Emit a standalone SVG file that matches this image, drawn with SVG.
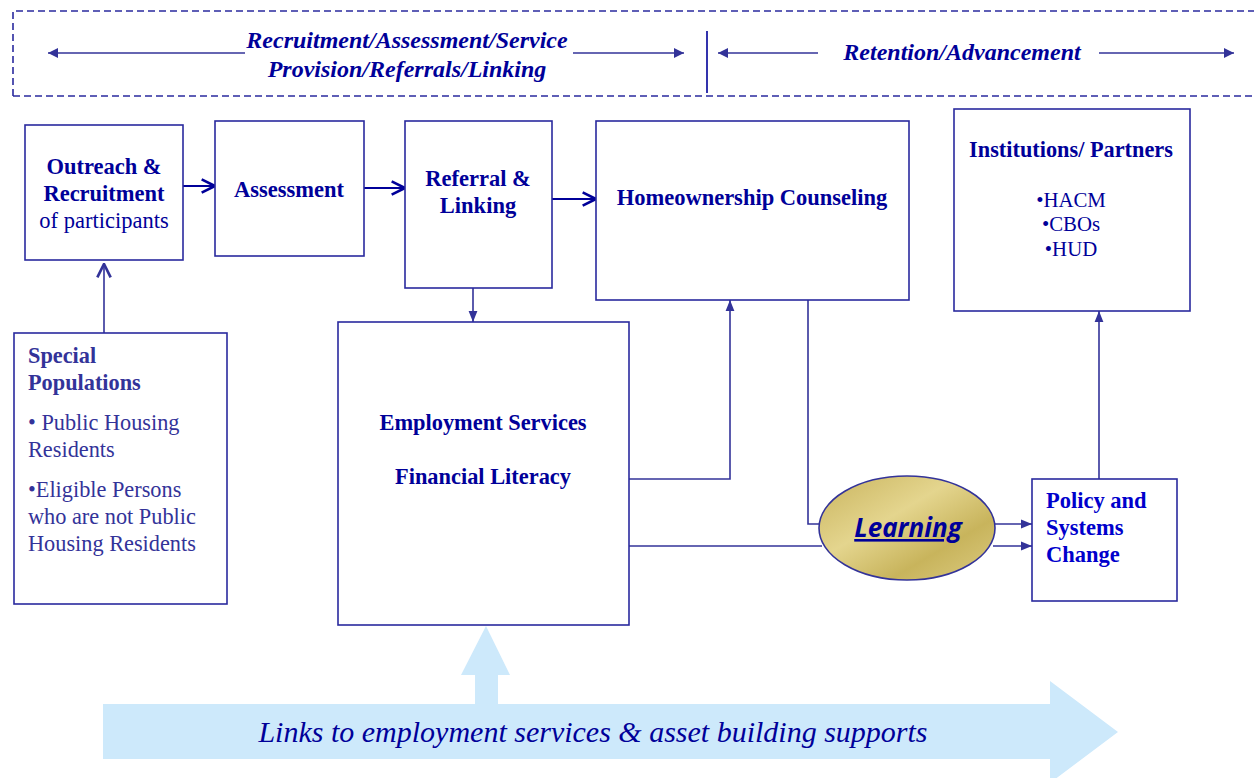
<svg xmlns="http://www.w3.org/2000/svg" width="1254" height="778" viewBox="0 0 1254 778">
<style>
.box{fill:#fff;stroke:#2a2a9e;stroke-width:1.6}
.t{font-family:"Liberation Serif",serif;fill:#000099}
.b{font-weight:bold}
.c{text-anchor:middle}
.sp{fill:#333399}
.pc{fill:#0000CC}
.con{fill:none;stroke:#333399;stroke-width:1.6}
.dk{stroke:#000099;stroke-width:2}
.hdr{font-family:"Liberation Serif",serif;font-weight:bold;font-style:italic;fill:#000099;font-size:24px}
</style>
<defs>
<marker id="fa" viewBox="0 0 10 10" refX="10" refY="5" markerWidth="11" markerHeight="10" markerUnits="userSpaceOnUse" orient="auto"><path d="M0,0 L10,5 L0,10 z" fill="#333399"/></marker>
<marker id="fa2" viewBox="0 0 10 10" refX="10" refY="5" markerWidth="11" markerHeight="11" markerUnits="userSpaceOnUse" orient="auto"><path d="M0,1 L10,5 L0,9 z" fill="#333399"/></marker>
<marker id="oa" viewBox="0 0 12 12" refX="11" refY="6" markerWidth="16" markerHeight="16" markerUnits="userSpaceOnUse" orient="auto"><path d="M1,1 L11,6 L1,11" fill="none" stroke="#000099" stroke-width="2"/></marker>
<marker id="oa2" viewBox="0 0 12 12" refX="11" refY="6" markerWidth="16" markerHeight="16" markerUnits="userSpaceOnUse" orient="auto"><path d="M1,1 L11,6 L1,11" fill="none" stroke="#333399" stroke-width="2"/></marker>
<linearGradient id="gold" x1="0" y1="0" x2="1" y2="1">
<stop offset="0" stop-color="#C9B45E"/>
<stop offset="0.4" stop-color="#E4D58E"/>
<stop offset="0.7" stop-color="#C8B45C"/>
<stop offset="1" stop-color="#DCCB80"/>
</linearGradient>
</defs>

<g id="header">
<path d="M13,96 L13,11 L1254,11 M13,96 L1254,96" fill="none" stroke="#2a2a9e" stroke-width="1.6" stroke-dasharray="7,4"/>
<line x1="707" y1="31" x2="707" y2="93" stroke="#000099" stroke-width="1.6"/>
<line x1="245" y1="53" x2="48" y2="53" class="con" marker-end="url(#fa)"/>
<line x1="573" y1="53" x2="684" y2="53" class="con" marker-end="url(#fa)"/>
<line x1="818" y1="53" x2="718" y2="53" class="con" marker-end="url(#fa)"/>
<line x1="1099" y1="53" x2="1234" y2="53" class="con" marker-end="url(#fa)"/>
<text class="hdr c" x="407" y="48">Recruitment/Assessment/Service</text>
<text class="hdr c" x="407" y="77">Provision/Referrals/Linking</text>
<text class="hdr c" x="962" y="60">Retention/Advancement</text>
</g>

<g id="big-arrow">
<path d="M103,704 L1050,704 L1050,681 L1118,732 L1050,783 L1050,759 L103,759 Z" fill="#CDE9FB"/>
<path d="M475,704 L475,675 L461,675 L486,626 L510,675 L498,675 L498,704 Z" fill="#CDE9FB"/>
<text class="t c" x="593" y="742" font-style="italic" font-size="30">Links to employment services &amp; asset building supports</text>
</g>

<g id="connectors">
<line x1="183" y1="186" x2="215" y2="186" class="con dk" marker-end="url(#oa)"/>
<line x1="361" y1="188" x2="405" y2="188" class="con dk" marker-end="url(#oa)"/>
<line x1="552" y1="199" x2="596" y2="199" class="con dk" marker-end="url(#oa)"/>
<line x1="104" y1="333" x2="104" y2="264" class="con" stroke-width="2.5" marker-end="url(#oa2)"/>
<line x1="473" y1="288" x2="473" y2="322" class="con" marker-end="url(#fa2)"/>
<polyline points="629,479 730,479 730,300" class="con" marker-end="url(#fa2)"/>
<polyline points="808,300 808,524 826,524" class="con"/>
<line x1="629" y1="546" x2="822" y2="546" class="con"/>
<line x1="990" y1="524" x2="1032" y2="524" class="con" marker-end="url(#fa2)"/>
<line x1="993" y1="546" x2="1032" y2="546" class="con" marker-end="url(#fa2)"/>
<line x1="1099" y1="479" x2="1099" y2="311" class="con" marker-end="url(#fa2)"/>
</g>

<g id="outreach">
<rect class="box" x="25" y="125" width="158" height="135"/>
<text class="t b c" x="104" y="174" font-size="22.5">Outreach &amp;</text>
<text class="t b c" x="104" y="201" font-size="22.5">Recruitment</text>
<text class="t c" x="104" y="228" font-size="22.5">of participants</text>
</g>

<g id="assessment">
<rect class="box" x="215" y="121" width="149" height="135"/>
<text class="t b c" x="289" y="197" font-size="22.5">Assessment</text>
</g>

<g id="referral">
<rect class="box" x="405" y="121" width="147" height="167"/>
<text class="t b c" x="478" y="186" font-size="22.5">Referral &amp;</text>
<text class="t b c" x="478" y="213" font-size="22.5">Linking</text>
</g>

<g id="homeownership">
<rect class="box" x="596" y="121" width="313" height="179"/>
<text class="t b c" x="752" y="205" font-size="22.5">Homeownership Counseling</text>
</g>

<g id="institutions">
<rect class="box" x="954" y="109" width="236" height="202"/>
<text class="t b c" x="1071" y="157" font-size="22.3">Institutions/ Partners</text>
<text class="t c" x="1071" y="207" font-size="20.8">•HACM</text>
<text class="t c" x="1071" y="231" font-size="20.8">•CBOs</text>
<text class="t c" x="1071" y="256" font-size="20.8">•HUD</text>
</g>

<g id="special-populations">
<rect class="box" x="14" y="333" width="213" height="271"/>
<text class="t sp b" x="28" y="363" font-size="22.3">Special</text>
<text class="t sp b" x="28" y="390" font-size="22.3">Populations</text>
<text class="t sp" x="28" y="430" font-size="22.3">• Public Housing</text>
<text class="t sp" x="28" y="457" font-size="22.3">Residents</text>
<text class="t sp" x="28" y="497" font-size="22.3">•Eligible Persons</text>
<text class="t sp" x="28" y="524" font-size="22.3">who are not Public</text>
<text class="t sp" x="28" y="551" font-size="22.3">Housing Residents</text>
</g>

<g id="employment">
<rect class="box" x="338" y="322" width="291" height="303"/>
<text class="t b c" x="483" y="430" font-size="22.4">Employment Services</text>
<text class="t b c" x="483" y="484" font-size="22.4">Financial Literacy</text>
</g>

<g id="learning">
<ellipse cx="907" cy="528" rx="88" ry="52" fill="url(#gold)" stroke="#333399" stroke-width="1.6"/>
<text x="908" y="537" text-anchor="middle" font-family="'Open Sans','Liberation Sans',sans-serif" font-weight="bold" font-style="italic" font-size="26" fill="#000099" text-decoration="underline">Learning</text>
</g>

<g id="policy">
<rect class="box" x="1032" y="479" width="145" height="122"/>
<text class="t b pc" x="1046" y="508" font-size="22.5">Policy and</text>
<text class="t b pc" x="1046" y="535" font-size="22.5">Systems</text>
<text class="t b pc" x="1046" y="562" font-size="22.5">Change</text>
</g>
</svg>
